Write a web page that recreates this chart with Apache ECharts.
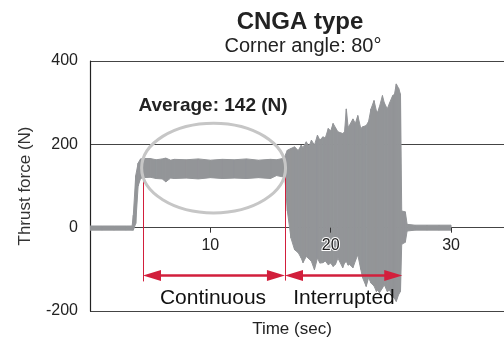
<!DOCTYPE html>
<html>
<head>
<meta charset="utf-8">
<script src="https://cdn.jsdelivr.net/npm/echarts@6/dist/echarts.min.js"></script>
<style>
  html, body { margin: 0; padding: 0; background: #fff; }
  #chart { width: 504px; height: 339px; }
</style>
</head>
<body>
<div id="chart"></div>
<script>
// time (sec) and the upper / lower envelope of the thrust force trace (N)
var times = [0, 1, 2, 3, 3.5, 3.6, 3.8, 4.0, 4.2, 4.4, 5, 5.5, 6, 6.3, 6.7, 7, 8, 9, 10, 11, 12, 13, 14, 15, 15.5, 16.0,
  16.2, 16.4, 16.7, 17.0, 17.3, 17.55, 17.7, 17.97, 18.2, 18.4, 18.65, 18.9, 19.1, 19.35, 19.55, 19.8, 20.0, 20.2, 20.4,
  20.6, 21.0, 21.15, 21.3, 21.45, 21.55, 21.85, 22.05, 22.25, 22.5, 22.65, 22.95, 23.15, 23.35, 23.6, 23.8, 23.9, 24.05,
  24.3, 24.45, 24.7, 24.9, 25.15, 25.3, 25.45, 25.65, 25.8, 25.9, 26.2, 26.35, 27, 28, 29, 30];
var upper = [4, 4, 4, 4, 4, 30, 125, 155, 165, 166, 166, 163, 165, 167, 162, 164, 163, 165, 162, 164, 163, 165, 162, 164, 163, 166,
  172, 186, 190, 194, 185, 198, 192, 206, 195, 210, 198, 222, 210, 218, 215, 238, 232, 250, 240,
  230, 226, 230, 285, 240, 245, 261, 250, 269, 238, 242, 245, 255, 285, 305, 280, 277, 290,
  317, 300, 285, 300, 317, 320, 345, 334, 320, 40, 38, 8, 6, 6, 6, 6];
var lower = [-6, -6, -6, -6, -6, -6, 10, 100, 118, 120, 121, 118, 117, 110, 119, 118, 119, 117, 120, 118, 119, 118, 120, 118, 125, 122,
  118, 40, -25, -53, -60, -73, -84, -69, -75, -81, -101, -73, -85, -84, -80, -89, -85, -93, -88,
  -73, -96, -85, -81, -90, -88, -96, -80, -65, -100, -120, -141, -120, -133, -140, -153, -150, -156,
  -145, -137, -153, -150, -165, -170, -177, -160, -153, -40, -35, -8, -6, -6, -6, -6];
var xTicks = [10, 20, 30];
var yTicks = [-200, 0, 200, 400];

var font = '"Liberation Sans", Arial, Helvetica, sans-serif';
var grey = '#939598';
var red = '#d21f3c';

var gridTop = 61, gridBottom = 28, chartH = 339;
var plotH = chartH - gridTop - gridBottom;
// lift the x axis from the bottom of the grid up to the zero line
var zeroOffset = -plotH * (0 - yTicks[0]) / (yTicks[yTicks.length - 1] - yTicks[0]);

var bandData = [];
for (var i = 0; i < times.length; i++) {
  bandData.push([times[i], upper[i], lower[i]]);
}

function renderBand(params, api) {
  var i = params.dataIndex;
  if (i >= times.length - 1) return;
  var pts = [
    api.coord([api.value(0), api.value(1)]),
    api.coord([times[i + 1], upper[i + 1]]),
    api.coord([times[i + 1], lower[i + 1]]),
    api.coord([api.value(0), api.value(2)])
  ];
  return {
    type: 'polygon',
    shape: { points: pts },
    style: { fill: grey, stroke: grey, lineWidth: 1 }
  };
}

var myChart = echarts.init(document.getElementById('chart'));

var option = {
  animation: false,
  grid: { left: 90, right: 0, top: gridTop, bottom: gridBottom },
  xAxis: {
    type: 'value',
    min: 0,
    max: 34.4,
    interval: 10,
    offset: zeroOffset,
    z: 10,
    axisLine: { show: false, onZero: false },
    axisTick: { show: true, length: 5, customValues: xTicks, lineStyle: { color: '#333' } },
    axisLabel: {
      customValues: xTicks, margin: 10, fontSize: 16, color: '#222', fontFamily: font,
      textBorderColor: '#fff', textBorderWidth: 2
    },
    splitLine: { show: false }
  },
  yAxis: {
    type: 'value',
    min: yTicks[0],
    max: yTicks[yTicks.length - 1],
    interval: 200,
    name: 'Thrust force (N)',
    nameLocation: 'middle',
    nameGap: 56,
    nameTextStyle: { fontSize: 17, color: '#333', fontFamily: font },
    axisLine: { show: true, lineStyle: { color: '#222', width: 1.2 } },
    axisTick: { show: false },
    axisLabel: { margin: 12, fontSize: 16, color: '#222', fontFamily: font },
    splitLine: { show: true, lineStyle: { color: '#444', width: 1 } }
  },
  series: [
    {
      name: 'thrust',
      type: 'custom',
      renderItem: renderBand,
      data: bandData,
      encode: { x: 0, y: [1, 2] },
      clip: true,
      z: 2
    },
    {
      name: 'marks',
      type: 'line',
      data: [[0, 0]],
      symbol: 'none',
      lineStyle: { opacity: 0 },
      z: 5,
      markLine: {
        silent: true,
        animation: false,
        label: { show: false },
        lineStyle: { color: red, width: 1, type: 'solid', opacity: 1 },
        symbol: ['none', 'none'],
        data: [
          [{ coord: [4.4, 118] }, { coord: [4.4, -129] }],
          [{ coord: [16.2, 142] }, { coord: [16.2, -127] }],
          [{ coord: [5.15, -115], symbol: 'triangle', symbolSize: [11, 18], lineStyle: { width: 2.5 } },
           { coord: [15.45, -115], symbol: 'triangle', symbolSize: [11, 18] }],
          [{ coord: [16.95, -115], symbol: 'triangle', symbolSize: [11, 18], lineStyle: { width: 2.5 } },
           { coord: [25.2, -115], symbol: 'triangle', symbolSize: [11, 18] }]
        ]
      }
    }
  ]
};

myChart.setOption(option);

// annotations placed from data coordinates
var c = myChart.convertToPixel({ gridIndex: 0 }, [10.27, 143]);
var e = myChart.convertToPixel({ gridIndex: 0 }, [16.25, 250.6]);

function txt(text, x, y, size, weight, color) {
  return {
    type: 'text', x: x, y: y, z: 100,
    style: {
      text: text, fill: color || '#222', fontSize: size, fontWeight: weight || 'normal', fontFamily: font,
      textAlign: 'center', textVerticalAlign: 'middle', align: 'center', verticalAlign: 'middle'
    }
  };
}

myChart.setOption({
  graphic: [
    {
      type: 'ellipse', z: 100,
      shape: { cx: c[0], cy: c[1], rx: e[0] - c[0], ry: c[1] - e[1] },
      style: { fill: 'none', stroke: '#c6c6c6', lineWidth: 3 }
    },
    txt('CNGA type', 300, 22, 24, 'bold'),
    txt('Corner angle: 80°', 303, 46, 20),
    txt('Average: 142 (N)', 213, 106, 19, 'bold'),
    txt('Continuous', 213, 298, 21, 'normal', '#111'),
    txt('Interrupted', 344, 298, 21, 'normal', '#111'),
    txt('Time (sec)', 292, 329, 17)
  ]
});
</script>
</body>
</html>
